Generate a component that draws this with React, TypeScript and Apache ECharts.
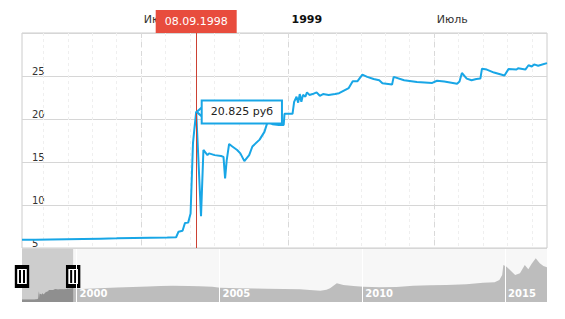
import React, { useEffect, useRef } from "react";
import * as echarts from "echarts";

// ---- data ----
const mainDates: string[] = [
  "1998-02-03", "1998-02-20", "1998-03-10", "1998-03-31", "1998-04-20", "1998-05-12",
  "1998-06-01", "1998-06-22", "1998-07-13", "1998-08-03", "1998-08-14", "1998-08-17",
  "1998-08-22", "1998-08-25", "1998-08-29", "1998-09-01", "1998-09-04", "1998-09-06",
  "1998-09-08", "1998-09-14", "1998-09-17", "1998-09-22", "1998-09-24", "1998-10-01",
  "1998-10-09", "1998-10-12", "1998-10-14", "1998-10-16", "1998-10-19", "1998-10-23",
  "1998-10-29", "1998-11-02", "1998-11-07", "1998-11-13", "1998-11-17", "1998-11-26",
  "1998-12-02", "1998-12-06", "1998-12-12", "1998-12-20", "1998-12-26", "1998-12-27",
  "1999-01-06", "1999-01-08", "1999-01-11", "1999-01-13", "1999-01-15", "1999-01-17",
  "1999-01-19", "1999-01-22", "1999-01-24", "1999-01-27", "1999-01-31", "1999-02-05",
  "1999-02-09", "1999-02-13", "1999-02-20", "1999-02-28", "1999-03-05", "1999-03-11",
  "1999-03-17", "1999-03-22", "1999-03-28", "1999-04-03", "1999-04-09", "1999-04-17",
  "1999-04-24", "1999-04-28", "1999-05-10", "1999-05-12", "1999-05-25", "1999-06-10",
  "1999-06-29", "1999-07-05", "1999-07-14", "1999-07-30", "1999-08-02", "1999-08-05",
  "1999-08-11", "1999-08-17", "1999-08-23", "1999-08-28", "1999-08-30", "1999-09-05",
  "1999-09-14", "1999-09-27", "1999-10-02", "1999-10-12", "1999-10-14", "1999-10-23",
  "1999-10-27", "1999-10-31", "1999-11-03", "1999-11-08", "1999-11-12", "1999-11-19",
];
const mainValues: number[] = [
  5.95, 5.97, 6.0, 6.03, 6.06, 6.09,
  6.12, 6.16, 6.2, 6.23, 6.25, 6.9,
  7.0, 7.9, 7.95, 9.0, 17.2, 19.1,
  20.825, 8.7, 16.4, 15.8, 16.0, 15.8,
  15.7, 15.6, 13.1, 15.2, 17.1, 16.8,
  16.4, 16.0, 15.1, 15.8, 16.8, 17.6,
  18.5, 19.7, 19.4, 19.3, 19.3, 20.6,
  20.6, 22.0, 22.6, 21.9, 22.9, 22.0,
  22.8, 22.6, 23.1, 22.8, 22.9, 23.1,
  22.7, 22.9, 22.8, 22.9, 23.0, 23.3,
  23.6, 24.4, 24.4, 25.15, 24.9, 24.65,
  24.5, 24.15, 24.0, 24.9, 24.5, 24.3,
  24.2, 24.45, 24.35, 24.1, 24.35, 25.35,
  24.7, 24.5, 24.65, 24.7, 25.85, 25.75,
  25.4, 25.05, 25.8, 25.75, 25.9, 25.75,
  26.25, 26.1, 26.35, 26.2, 26.3, 26.5,
];

// later history, only visible in the navigator
const navDates: string[] = [
  "2000-03-01", "2000-10-15", "2001-06-01", "2001-12-20", "2002-07-01", "2002-12-10",
  "2003-05-15", "2003-12-01", "2004-04-20", "2004-10-01", "2005-01-10", "2005-09-01",
  "2006-04-01", "2006-09-01", "2007-04-01", "2007-10-30", "2008-03-01", "2008-07-15",
  "2008-10-01", "2008-11-15", "2009-02-10", "2009-05-05", "2009-09-10", "2010-01-15",
  "2010-08-15", "2011-03-15", "2011-10-15", "2012-05-20", "2012-12-15", "2013-08-25",
  "2014-03-25", "2014-08-20", "2014-10-20", "2014-11-25", "2014-12-10", "2015-01-20",
  "2015-03-05", "2015-05-10", "2015-07-10", "2015-09-10", "2015-10-25", "2015-12-05",
  "2016-01-28", "2016-03-20", "2016-05-05", "2016-06-20",
];
const navValues: number[] = [
  25.0, 26.0, 27.3, 28.4, 29.4, 30.2,
  30.7, 30.3, 29.6, 28.8, 27.1, 26.3,
  25.8, 25.3, 24.8, 24.3, 23.2, 21.8,
  23.5, 26.0, 35.0, 32.0, 30.2, 29.0,
  27.8, 28.4, 30.7, 31.4, 32.0, 33.2,
  36.0, 37.0, 41.0, 49.9, 67.8, 64.8,
  58.8, 49.9, 52.9, 67.8, 60.0, 69.6,
  79.8, 70.9, 66.0, 63.7,
];

const majorTicks: string[] = ["1998-07-01", "1999-01-01", "1999-07-01"];
const monthNames: string[] = [
  "Январь", "Февраль", "Март", "Апрель", "Май", "Июнь",
  "Июль", "Август", "Сентябрь", "Октябрь", "Ноябрь", "Декабрь",
];
const navYearTicks: string[] = ["2000-01-01", "2005-01-01", "2010-01-01", "2015-01-01"];
const yTicks = { min: 5, max: 30, step: 5 };

const viewStart = "1998-02-03";
const viewEnd = "1999-11-19";
const navStart = "1998-02-03";
const navEnd = "2016-06-20";
const markerDate = "1998-09-08";
const markerValue = 20.825;
const currency = "руб";

const ts = (s: string) => {
  const [y, m, d] = s.split("-").map(Number);
  return new Date(y, m - 1, d).getTime();
};

const minorTicks: number[] = [];
for (let i = 2; i <= 22; i++) {
  minorTicks.push(new Date(1998, i, 1).getTime());
}

const pad2 = (n: number) => (n < 10 ? "0" + n : String(n));

export default function App() {
  const ref = useRef<HTMLDivElement>(null);
  useEffect(() => {
    if (!ref.current) return;
    const chart = echarts.init(ref.current, undefined, { renderer: "svg" });
    const mainData = mainDates.map((d, i) => [ts(d), mainValues[i]]);
    const navData = mainData.concat(navDates.map((d, i) => [ts(d), navValues[i]]));
    const md = new Date(ts(markerDate));
    const markerLabel = pad2(md.getDate()) + "." + pad2(md.getMonth() + 1) + "." + md.getFullYear();
    const handleY = 47.2;
    const blue = "#18a6e6";
    const handleRect = { symbol: "rect", symbolSize: [12, 19], itemStyle: { color: "#fff", borderColor: "#000", borderWidth: 3 } };
    const handleBars = { symbol: "path://M0,0H2V13H0Z M4,0H6V13H4Z", symbolSize: [6, 13], itemStyle: { color: "#000", borderWidth: 0 } };

    chart.setOption({
      animation: false,
      textStyle: { fontFamily: "DejaVu Sans" },
      grid: [
        { left: 22, right: 18, top: 33, height: 215, show: true, borderColor: "#cccccc", borderWidth: 1, backgroundColor: "transparent" },
        { left: 22, right: 18, top: 249, height: 53, show: true, borderWidth: 0, backgroundColor: "#f7f7f7" },
      ],
      xAxis: [
        {
          type: "value",
          gridIndex: 0,
          position: "top",
          min: ts(viewStart),
          max: ts(viewEnd),
          axisLine: { show: false },
          axisTick: { show: false, customValues: majorTicks.map(ts) },
          axisLabel: {
            customValues: majorTicks.map(ts),
            align: "left",
            padding: [0, 0, 0, 3],
            margin: 8,
            fontSize: 11,
            color: "#333",
            formatter: (v: number) => {
              const d = new Date(v);
              if (d.getMonth() === 0) return "{b|" + d.getFullYear() + "}";
              return monthNames[d.getMonth()];
            },
            rich: { b: { fontWeight: "bold", fontSize: 11, color: "#111", fontFamily: "DejaVu Sans" } },
          },
          splitLine: { show: true, lineStyle: { color: "#d9d9d9", type: [5, 4], width: 1 } },
          z: 3,
        },
        {
          type: "value",
          gridIndex: 0,
          position: "bottom",
          min: ts(viewStart),
          max: ts(viewEnd),
          axisLine: { show: false },
          axisTick: { show: false, customValues: minorTicks },
          axisLabel: { show: false, customValues: minorTicks },
          splitLine: { show: true, lineStyle: { color: "#efefef", type: [3, 3], width: 1 } },
          z: 1,
        },
        {
          type: "value",
          gridIndex: 1,
          min: ts(navStart),
          max: ts(navEnd),
          axisLine: { show: false },
          axisTick: { show: false, customValues: navYearTicks.map(ts) },
          axisLabel: {
            inside: true,
            customValues: navYearTicks.map(ts),
            align: "left",
            padding: [0, 0, 0, 3],
            margin: 4,
            color: "#ffffff",
            fontWeight: "bold",
            fontSize: 10,
            formatter: (v: number) => String(new Date(v).getFullYear()),
          },
          splitLine: { show: true, lineStyle: { color: "#ffffff", width: 1 } },
          z: 10,
        },
      ],
      yAxis: [
        {
          type: "value",
          gridIndex: 0,
          min: yTicks.min,
          max: yTicks.max,
          interval: yTicks.step,
          axisLine: { show: false },
          axisTick: { show: false },
          axisLabel: {
            inside: true,
            margin: 10,
            fontSize: 10,
            color: "#333",
            verticalAlign: "bottom",
            formatter: (v: number) => (v === yTicks.max ? "" : String(v)),
          },
          splitLine: { show: true, lineStyle: { color: "#d6d6d6", width: 1 } },
        },
        {
          type: "value",
          gridIndex: 1,
          min: 1.5,
          max: 96.5,
          show: false,
          splitLine: { show: false },
        },
      ],
      series: [
        {
          type: "line",
          xAxisIndex: 0,
          yAxisIndex: 0,
          data: mainData,
          showSymbol: false,
          lineStyle: { color: blue, width: 2 },
          itemStyle: { color: blue },
          z: 4,
          clip: false,
          markLine: {
            silent: true,
            symbol: "none",
            lineStyle: { color: "#cc4133", width: 1, type: "solid" },
            label: {
              show: true,
              position: "end",
              distance: 0,
              formatter: markerLabel,
              backgroundColor: "#e84c3d",
              color: "#ffffff",
              fontSize: 11,
              padding: [6, 9, 6, 9],
            },
            data: [{ xAxis: ts(markerDate) }],
          },
          markPoint: {
            silent: true,
            data: [
              {
                coord: [ts(markerDate), markerValue],
                symbol: "rect",
                symbolSize: [1, 1],
                itemStyle: { color: "rgba(0,0,0,0)" },
                label: {
                  show: true,
                  position: "right",
                  distance: 6,
                  formatter: markerValue.toFixed(3) + " " + currency,
                  color: "#222",
                  fontSize: 11,
                  backgroundColor: "#ffffff",
                  borderColor: blue,
                  borderWidth: 2,
                  padding: [5, 8, 5, 8],
                },
              },
              {
                coord: [ts(markerDate), markerValue],
                symbol: "path://M7,0 L0,6 L7,12 Z",
                symbolSize: [7, 12],
                symbolOffset: [4, 0],
                itemStyle: { color: "#ffffff", borderColor: blue, borderWidth: 2 },
                label: { show: false },
              },
            ],
          },
        },
        {
          type: "line",
          xAxisIndex: 2,
          yAxisIndex: 1,
          data: navData,
          showSymbol: false,
          silent: true,
          clip: false,
          lineStyle: { width: 0 },
          areaStyle: { color: "#bdbdbd", opacity: 1 },
          z: 2,
          markArea: {
            silent: true,
            itemStyle: { color: "rgba(0,0,0,0.17)" },
            data: [[{ xAxis: ts(viewStart) }, { xAxis: ts(viewEnd) }]],
          },
        },
        {
          type: "line",
          xAxisIndex: 2,
          yAxisIndex: 1,
          data: mainData,
          showSymbol: false,
          silent: true,
          clip: false,
          lineStyle: { width: 0 },
          areaStyle: { color: "#8f8f8f", opacity: 1 },
          z: 3,
          markPoint: {
            silent: true,
            label: { show: false },
            data: [
              { coord: [ts(viewStart), handleY], ...handleRect },
              { coord: [ts(viewStart), handleY], ...handleBars },
              { coord: [ts(viewEnd), handleY], ...handleRect },
              { coord: [ts(viewEnd), handleY], ...handleBars },
            ],
          },
        },
      ],
    });
    return () => chart.dispose();
  }, []);
  return <div ref={ref} style={{ width: 565, height: 319, position: "absolute", left: 0, top: 0 }} />;
}
